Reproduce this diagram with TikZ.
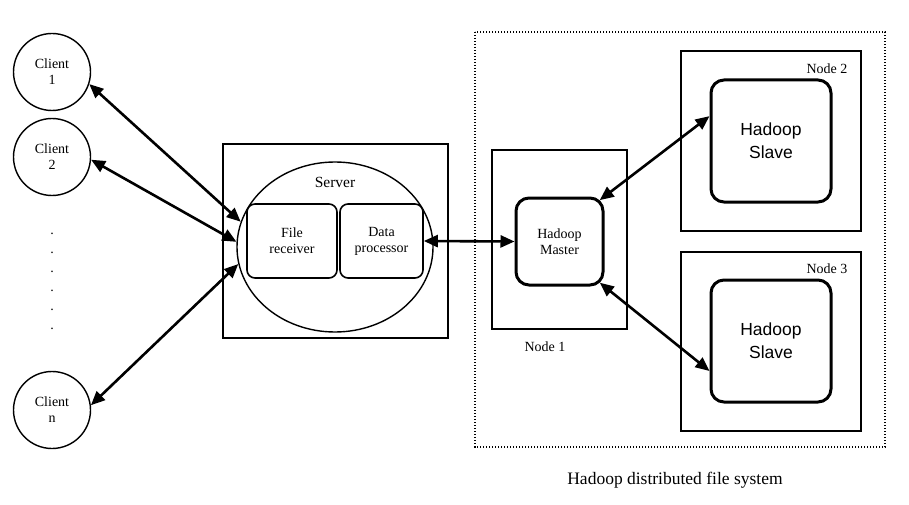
\documentclass[tikz,border=0pt]{standalone}
\usepackage{fontspec}
\setmainfont{Liberation Serif}
\newfontfamily\slavefont{Liberation Sans}
\usetikzlibrary{arrows.meta, shapes.geometric}

\tikzset{
  client/.style={draw, circle, line width=1.4pt, minimum size=77pt, inner sep=0pt, align=center, font=\fontsize{14}{16}\selectfont},
  plainbox/.style={draw, rectangle, line width=1.4pt, inner sep=0pt},
  inbox/.style={draw, rectangle, rounded corners=8pt, line width=1.6pt, inner sep=0pt, align=center, font=\fontsize{14}{16}\selectfont},
  hadoopbox/.style={draw, rectangle, rounded corners=13pt, line width=3pt, inner sep=0pt, align=center},
  lbl/.style={inner sep=0pt, font=\fontsize{14}{16}\selectfont},
  link/.style={line width=2.6pt, {Triangle[length=14pt,width=12pt]}-{Triangle[length=14pt,width=12pt]}}
}

\begin{document}
\begin{tikzpicture}[x=1pt,y=1pt,yscale=-1,xscale=1]
\useasboundingbox (0,0) rectangle (909,505);

% Clients
\node [client] (c1) at (52,72) {Client\\1};
\node [client] (c2) at (52,157) {Client\\2};
\node [client] (cn) at (52,410) {Client\\n};
\foreach \y in {234,253,...,329}
  \node [lbl] at (52,\y) {.};

% Server
\node [plainbox, minimum width=225pt, minimum height=194pt] (srvbox) at (335.5,241) {};
\node [draw, ellipse, line width=1.4pt, minimum width=196pt, minimum height=170pt] (srv) at (335,247) {};
\node [lbl, font=\fontsize{15.5}{18}\selectfont] (srvlbl) at (335,182) {Server};
\node [inbox, minimum width=90pt, minimum height=74pt] (recv) at (292,241) {File\\receiver};
\node [inbox, minimum width=83pt, minimum height=74pt] (proc) at (381.5,241) {Data\\processor};

% Hadoop distributed file system
\draw [line width=1.2pt, dash pattern=on 1.2pt off 1.8pt] (475,32) rectangle (885,447);
\node [font=\fontsize{17.5}{20}\selectfont] (hdfs) at (675,480) {Hadoop distributed file system};

% Node 1
\node [plainbox, minimum width=135pt, minimum height=179pt] (n1) at (559.5,239.5) {};
\node [hadoopbox, minimum width=87pt, minimum height=87pt, font=\fontsize{14}{16}\selectfont] (master) at (559.5,241.5) {Hadoop\\Master};
\node [lbl] (n1lbl) at (545,347) {Node 1};

% Node 2
\node [plainbox, minimum width=180pt, minimum height=180pt] (n2) at (771,141) {};
\node [lbl] (n2lbl) at (827,69) {Node 2};
\node [hadoopbox, minimum width=120pt, minimum height=122pt, font=\slavefont\fontsize{17.5}{23}\selectfont] (s1) at (771,141) {Hadoop\\Slave};

% Node 3
\node [plainbox, minimum width=180pt, minimum height=179pt] (n3) at (771,341.5) {};
\node [lbl] (n3lbl) at (827,269) {Node 3};
\node [hadoopbox, minimum width=120pt, minimum height=122pt, font=\slavefont\fontsize{17.5}{23}\selectfont] (s2) at (771,341) {Hadoop\\Slave};

% Connections
\draw [link] (c1.-18) -- (srv.165);
\draw [link] (c2.-4) -- (srv.177.5);
\draw [link] (cn.7) -- (srv.190.5);
\draw [link] (proc.east) -- (master.west);
\draw [link, shorten <=-6pt] (master.45) -- (s1.158);
\draw [link, shorten <=-6pt] (master.-45) -- (s2.206);

\end{tikzpicture}
\end{document}
